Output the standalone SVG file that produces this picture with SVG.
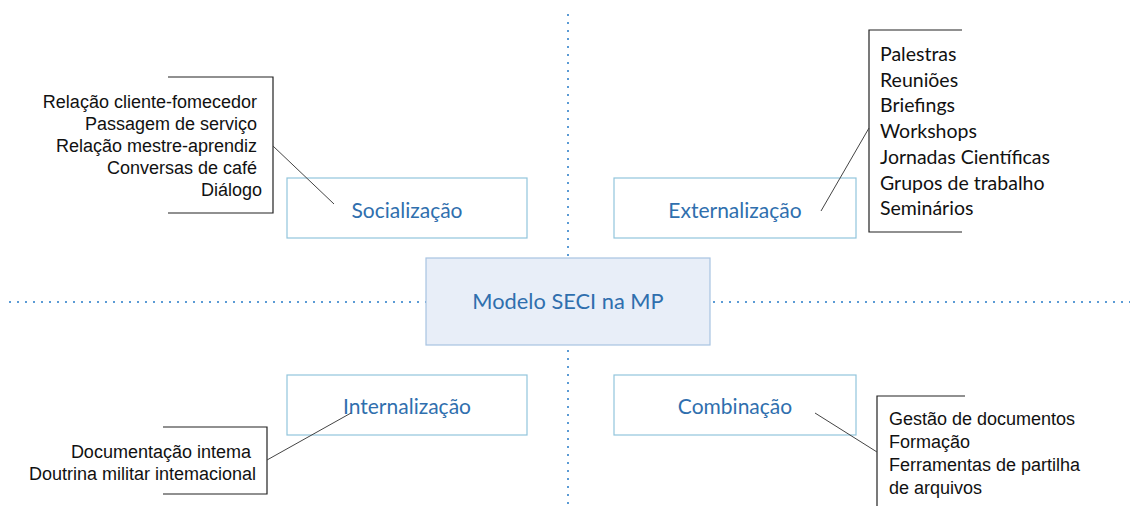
<svg xmlns="http://www.w3.org/2000/svg" width="1134" height="506" viewBox="0 0 1134 506">
<style>
.box{fill:#ffffff;stroke:#92c5dc;stroke-width:1.2}
.center{fill:#e8eef8;stroke:#a7c3e2;stroke-width:1.2}
.lbl{font-family:Lato,"Open Sans",sans-serif;fill:#2f6fae;text-anchor:middle}
.guide{stroke:#5b9bd5;stroke-width:2;stroke-dasharray:2 6;fill:none}
.br{stroke:#222;stroke-width:1.2;fill:none}
.con{stroke:#444;stroke-width:1;fill:none}
.arial{font-family:"Liberation Sans",Arial,sans-serif;font-size:18px;fill:#111}
.cal{font-family:Lato,"Open Sans",sans-serif;font-size:19.5px;fill:#111}
</style>
<g id="guides">
<line class="guide" x1="9" y1="302" x2="1130" y2="302"/>
<line class="guide" x1="568" y1="14" x2="568" y2="504"/>
</g>
<g id="center">
<rect class="center" x="426" y="258" width="284" height="87"/>
<text class="lbl" x="568" y="309" font-size="21.8">Modelo SECI na MP</text>
</g>
<g id="socializacao">
<rect class="box" x="287" y="178" width="240" height="60"/>
<text class="lbl" x="407" y="218" font-size="21">Socialização</text>
</g>
<g id="externalizacao">
<rect class="box" x="614" y="178" width="242" height="60"/>
<text class="lbl" x="735" y="218" font-size="21">Externalização</text>
</g>
<g id="internalizacao">
<rect class="box" x="287" y="375" width="240" height="60"/>
<text class="lbl" x="407" y="414" font-size="21">Internalização</text>
</g>
<g id="combinacao">
<rect class="box" x="614" y="375" width="242" height="60"/>
<text class="lbl" x="735" y="414" font-size="21">Combinação</text>
</g>
<g id="note-socializacao">
<polyline class="br" points="168,77 273,77 273,213 168,213"/>
<text class="arial" text-anchor="end">
<tspan x="262" y="108">Relação cliente-fomecedor</tspan>
<tspan x="262" y="130">Passagem de serviço</tspan>
<tspan x="262" y="152">Relação mestre-aprendiz</tspan>
<tspan x="262" y="174">Conversas de café</tspan>
<tspan x="262" y="196">Diálogo</tspan>
</text>
</g>
<g id="note-externalizacao">
<polyline class="br" points="962,30 869,30 869,232 962,232"/>
<text class="cal">
<tspan x="880" y="61">Palestras</tspan>
<tspan x="880" y="87">Reuniões</tspan>
<tspan x="880" y="112">Briefings</tspan>
<tspan x="880" y="138">Workshops</tspan>
<tspan x="880" y="164">Jornadas Científicas</tspan>
<tspan x="880" y="190">Grupos de trabalho</tspan>
<tspan x="880" y="215">Seminários</tspan>
</text>
</g>
<g id="note-internalizacao">
<polyline class="br" points="163,427 267,427 267,494 163,494"/>
<text class="arial" text-anchor="end">
<tspan x="256" y="458">Documentação intema</tspan>
<tspan x="256" y="480">Doutrina militar intemacional</tspan>
</text>
</g>
<g id="note-combinacao">
<polyline class="br" points="965,396 877,396 877,506"/>
<text class="arial">
<tspan x="889" y="425">Gestão de documentos</tspan>
<tspan x="889" y="448">Formação</tspan>
<tspan x="889" y="471">Ferramentas de partilha</tspan>
<tspan x="889" y="494">de arquivos</tspan>
</text>
</g>
<g id="connectors">
<line class="con" x1="273" y1="146" x2="334" y2="204"/>
<line class="con" x1="869" y1="128" x2="821" y2="211"/>
<line class="con" x1="267" y1="460" x2="351" y2="413"/>
<line class="con" x1="877" y1="452" x2="815" y2="413"/>
</g>
</svg>
